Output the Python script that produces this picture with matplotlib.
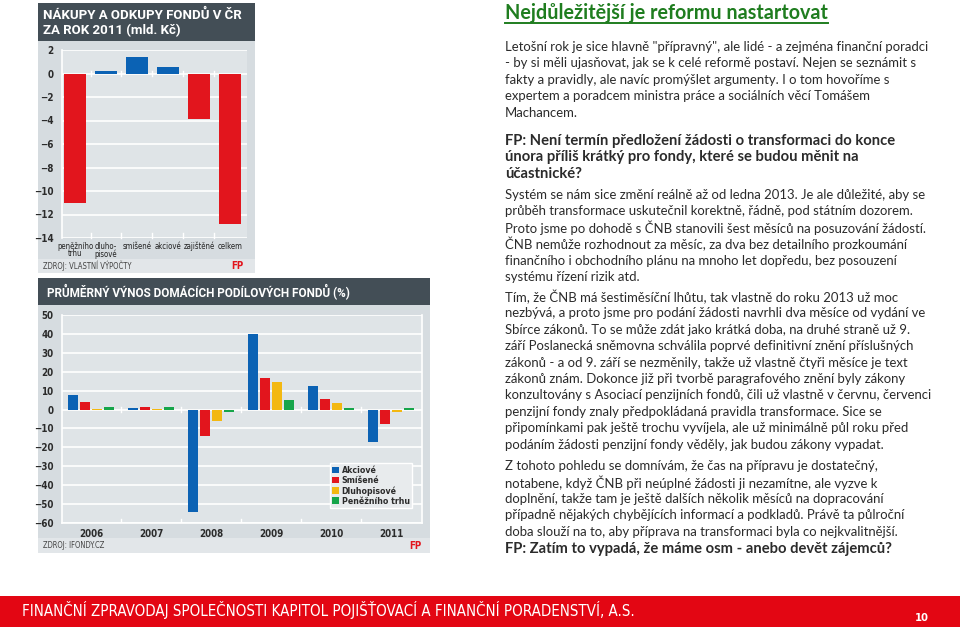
import matplotlib
matplotlib.use('Agg')
from matplotlib import pyplot as plt
from matplotlib import font_manager
from matplotlib.patches import Rectangle
from matplotlib.lines import Line2D
import numpy as np

# --- data ---
flow_cats = ['peněžního\ntrhu', 'dluho-\npisové', 'smíšené', 'akciové', 'zajištěné', 'celkem']
flow_vals = [-11.0, 0.2, 1.4, 0.55, -3.85, -12.8]

years = ['2006', '2007', '2008', '2009', '2010', '2011']
series_names = ['Akciové', 'Smíšené', 'Dluhopisové', 'Peněžního trhu']
akciove = [7.5, 1.0, -54.0, 40.0, 12.5, -17.0]
smisene = [4.0, 1.2, -14.0, 16.5, 5.5, -7.5]
dluhopisove = [0.3, 0.2, -6.0, 14.5, 3.5, -1.5]
penezni = [1.3, 1.3, -1.5, 5.0, 1.0, 0.8]

title = 'Nejdůležitější je reformu nastartovat'
para1 = ['Letošní rok je sice hlavně "přípravný", ale lidé - a zejména finanční poradci',
         '- by si měli ujasňovat, jak se k celé reformě postaví. Nejen se seznámit s',
         'fakty a pravidly, ale navíc promýšlet argumenty. I o tom hovoříme s',
         'expertem a poradcem ministra práce a sociálních věcí Tomášem',
         'Machancem.']
q1 = ['FP: Není termín předložení žádosti o transformaci do konce',
      'února příliš krátký pro fondy, které se budou měnit na',
      'účastnické?']
para2 = ['Systém se nám sice změní reálně až od ledna 2013. Je ale důležité, aby se',
         'průběh transformace uskutečnil korektně, řádně, pod státním dozorem.',
         'Proto jsme po dohodě s ČNB stanovili šest měsíců na posuzování žádostí.',
         'ČNB nemůže rozhodnout za měsíc, za dva bez detailního prozkoumání',
         'finančního i obchodního plánu na mnoho let dopředu, bez posouzení',
         'systému řízení rizik atd.']
para3 = ['Tím, že ČNB má šestiměsíční lhůtu, tak vlastně do roku 2013 už moc',
         'nezbývá, a proto jsme pro podání žádosti navrhli dva měsíce od vydání ve',
         'Sbírce zákonů. To se může zdát jako krátká doba, na druhé straně už 9.',
         'září Poslanecká sněmovna schválila poprvé definitivní znění příslušných',
         'zákonů - a od 9. září se nezměnily, takže už vlastně čtyři měsíce je text',
         'zákonů znám. Dokonce již při tvorbě paragrafového znění byly zákony',
         'konzultovány s Asociací penzijních fondů, čili už vlastně v červnu, červenci',
         'penzijní fondy znaly předpokládaná pravidla transformace. Sice se',
         'připomínkami pak ještě trochu vyvíjela, ale už minimálně půl roku před',
         'podáním žádosti penzijní fondy věděly, jak budou zákony vypadat.']
para4 = ['Z tohoto pohledu se domnívám, že čas na přípravu je dostatečný,',
         'notabene, když ČNB při neúplné žádosti ji nezamítne, ale vyzve k',
         'doplnění, takže tam je ještě dalších několik měsíců na dopracování',
         'případně nějakých chybějících informací a podkladů. Právě ta půlroční',
         'doba slouží na to, aby příprava na transformaci byla co nejkvalitnější.']
q2 = ['FP: Zatím to vypadá, že máme osm - anebo devět zájemců?']
footer = 'FINANČNÍ ZPRAVODAJ SPOLEČNOSTI KAPITOL POJIŠŤOVACÍ A FINANČNÍ PORADENSTVÍ, A.S.'

W, H = 960, 627
fonts = font_manager.fontManager.ttflist
names = {f.name for f in fonts}
if 'Liberation Sans Narrow' in names:
    cond = dict(family='Liberation Sans Narrow')
elif any(f.name == 'DejaVu Sans' and f.stretch == 'condensed' for f in fonts):
    cond = dict(family='DejaVu Sans', stretch='condensed')
else:
    cond = dict(family='Roboto')
body_font = 'Lato'

blue, red, yellow, green = '#0b62b4', '#e2151d', '#f3b811', '#16a54a'
header_c = '#434e56'
panel_c = '#d6dce0'
plot_c = '#dfe4e7'
foot_c = '#e2e6e9'
text_c = '#2b2b2b'

fig = plt.figure(figsize=(W / 100, H / 100), dpi=100)


def box(x0, y0, x1, y1):
    return [x0 / W, 1 - y1 / H, (x1 - x0) / W, (y1 - y0) / H]


def rect(x0, y0, x1, y1, color):
    fig.add_artist(Rectangle((x0 / W, 1 - y1 / H), (x1 - x0) / W, (y1 - y0) / H,
                             transform=fig.transFigure, facecolor=color,
                             edgecolor='none', zorder=0))


def ftext(x, y, s, **kw):
    return fig.text(x / W, 1 - y / H, s, **kw)


# ---------------- chart 1 ----------------
rect(38, 3, 255, 273, panel_c)
rect(38, 3, 255, 41, header_c)
rect(38, 259, 255, 273, foot_c)
ftext(43, 15, 'NÁKUPY A ODKUPY FONDŮ V ČR', color='white', fontsize=9.5,
      fontweight='bold', family='Roboto', va='center')
ftext(43, 31, 'ZA ROK 2011 (mld. Kč)', color='white', fontsize=9.5,
      fontweight='bold', family='Roboto', va='center')
ftext(43, 266, 'ZDROJ: VLASTNÍ VÝPOČTY', color='#444444', fontsize=5.5,
      va='center', **cond)
ftext(243, 266, 'FP', color=red, fontsize=7, fontweight='bold',
      va='center', ha='right', **cond)

ax1 = fig.add_axes(box(62, 50, 247, 238))
ax1.set_facecolor(plot_c)
x1 = np.arange(len(flow_cats))
cols1 = [blue if v > 0 else red for v in flow_vals]
ax1.bar(x1, flow_vals, width=0.71, color=cols1, zorder=3)
ax1.set_xlim(-0.42, 5.55)
ax1.set_ylim(-14, 2)
ax1.set_yticks(np.arange(-14, 3, 2))
ax1.yaxis.grid(True, color='white', linewidth=1.2, zorder=0)
ax1.set_xticks([])
for s in ['top', 'right', 'bottom']:
    ax1.spines[s].set_visible(False)
ax1.spines['left'].set_color('white')
ax1.spines['left'].set_linewidth(1.2)
ax1.tick_params(axis='y', length=0, labelcolor=text_c, pad=6)
tick_fp = font_manager.FontProperties(weight='bold', size=7, **cond)
for lab in ax1.get_yticklabels():
    lab.set_fontproperties(tick_fp)
for b in np.arange(0.5, 5.5, 1):
    ax1.plot([b, b], [-0.25, 0.25], color='white', lw=1, zorder=2)
    ax1.plot([b, b], [-14, -13.6], color='white', lw=1, zorder=2, clip_on=False)
for i, c in enumerate(flow_cats):
    ax1.text(i, -14.3, c, ha='center', va='top', fontsize=5.6, color='#222222',
             linespacing=0.85, clip_on=False, **cond)

# ---------------- chart 2 ----------------
rect(38, 278, 430, 553, panel_c)
rect(38, 278, 430, 305, header_c)
rect(38, 538, 430, 553, foot_c)
ftext(47, 292, 'PRŮMĚRNÝ VÝNOS DOMÁCÍCH PODÍLOVÝCH FONDŮ (%)', color='white',
      fontsize=8.5, fontweight='bold', family='Roboto', va='center')
ftext(43, 546, 'ZDROJ: IFONDY.CZ', color='#444444', fontsize=5.5,
      va='center', **cond)
ftext(422, 546, 'FP', color=red, fontsize=7, fontweight='bold',
      va='center', ha='right', **cond)

ax2 = fig.add_axes(box(62, 315, 422, 523))
ax2.set_facecolor(plot_c)
x2 = np.arange(len(years))
series = [akciove, smisene, dluhopisove, penezni]
cols2 = [blue, red, yellow, green]
for k, (vals, col, nm) in enumerate(zip(series, cols2, series_names)):
    ax2.bar(x2 + (k - 1.5) * 0.2, vals, width=0.18, color=col, label=nm, zorder=3)
ax2.set_xlim(-0.483, 5.517)
ax2.set_ylim(-60, 50)
ax2.set_yticks(np.arange(-60, 51, 10))
ax2.yaxis.grid(True, color='white', linewidth=1.2, zorder=0)
ax2.set_xticks(x2)
ax2.set_xticklabels(years)
ax2.spines['top'].set_visible(False)
for s in ['left', 'right', 'bottom']:
    ax2.spines[s].set_color('white')
    ax2.spines[s].set_linewidth(1.2)
ax2.tick_params(axis='y', length=0, labelcolor=text_c, pad=6)
ax2.tick_params(axis='x', length=0, labelcolor=text_c, pad=4)
for lab in ax2.get_yticklabels() + ax2.get_xticklabels():
    lab.set_fontproperties(tick_fp)
for b in np.arange(0.5, 5.5, 1):
    ax2.plot([b, b], [-1.2, 1.2], color='white', lw=1, zorder=2)
    ax2.plot([b, b], [-60, -58], color='white', lw=1, zorder=2)
leg = ax2.legend(loc='lower right', bbox_to_anchor=(0.985, 0.05),
                 prop=font_manager.FontProperties(weight='bold', size=6.3, **cond),
                 handlelength=0.75, handleheight=0.75, handletextpad=0.3,
                 labelspacing=0.12, borderpad=0.3, fancybox=False,
                 framealpha=1)
leg.get_frame().set_facecolor('#e8ebed')
leg.get_frame().set_edgecolor('white')
for t in leg.get_texts():
    t.set_color(text_c)

# ---------------- right column text ----------------
tx = 505
t = ftext(tx, 13, title, color='#1f7d1f', fontsize=14.2, fontweight='bold',
          family=body_font, va='center')
fig.canvas.draw()
bb = t.get_window_extent().transformed(fig.transFigure.inverted())
fig.add_artist(Line2D([bb.x0, bb.x1], [1 - 23 / H, 1 - 23 / H],
                      transform=fig.transFigure, color='#1f7d1f', lw=1.4))

body_kw = dict(color=text_c, fontsize=9.45, family=body_font, va='center')
bold_kw = dict(color=text_c, fontsize=10.6, family=body_font, va='center',
               fontweight='bold')


def block(lines, y0, kw, step=16.4):
    for i, s in enumerate(lines):
        ftext(tx, y0 + i * step, s, **kw)


block(para1, 47, body_kw)
block(q1, 141, bold_kw)
block(para2, 195, body_kw)
block(para3, 297, body_kw)
block(para4, 466, body_kw)
block(q2, 549, bold_kw)

# ---------------- footer ----------------
rect(0, 596, W, H, '#e30613')
ftext(22, 610, footer, color='white', fontsize=10.8, va='center', **cond)
ftext(915, 618, '10', color='white', fontsize=8, fontweight='bold',
      va='center', **cond)

fig.savefig('out.png', dpi=100)
